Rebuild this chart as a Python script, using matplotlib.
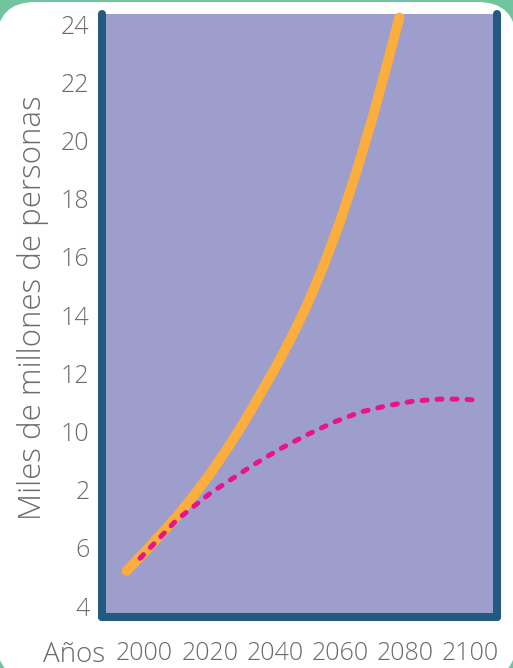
import matplotlib
matplotlib.use("Agg")
import matplotlib.pyplot as plt
from matplotlib.patches import FancyBboxPatch

# ---- data ----
orange_years = [1994.5, 1999.6, 2004.7, 2009.9, 2015.0, 2020.1, 2025.2, 2030.3, 2035.4,
                2040.6, 2045.7, 2050.0, 2055.0, 2060.0, 2065.0, 2070.0, 2075.0, 2078.2]
orange_vals = [5.21, 5.81, 6.43, 7.08, 7.78, 8.54, 9.38, 10.28, 11.25,
               12.28, 13.37, 14.38, 15.71, 17.21, 18.91, 20.79, 22.84, 24.22]

pink_years = [1998.6, 2009.9, 2020.1, 2025.2, 2033.4, 2041.6, 2049.8, 2057.9,
              2066.1, 2074.3, 2082.5, 2090.7, 2096.8, 2102.0]
pink_vals = [5.64, 6.96, 7.87, 8.25, 8.85, 9.40, 9.88, 10.31,
             10.66, 10.88, 11.04, 11.11, 11.11, 11.08]

x_ticks = [2000, 2020, 2040, 2060, 2080, 2100]
x_tick_labels = ["2000", "2020", "2040", "2060", "2080", "2100"]
y_ticks = [4, 6, 8, 10, 12, 14, 16, 18, 20, 22, 24]
y_tick_labels = ["4", "6", "2", "10", "12", "14", "16", "18", "20", "22", "24"]

ylabel = "Miles de millones de personas"
xlabel = "Años"

# ---- style ----
W, H = 513, 668
DPI = 100
green = "#70C59E"
lavender = "#9E9ECC"
spine_col = "#245A82"
orange = "#FBAD3D"
pink = "#EC128F"
text_col = "#6B6B6B"
font = ["Open Sans", "DejaVu Sans"]
weight = "light"

fig = plt.figure(figsize=(W / DPI, H / DPI), dpi=DPI)
fig.patch.set_facecolor(green)

# white rounded card
card = FancyBboxPatch((-3 / W, 1 - 680 / H), 519 / W, (680 - 2) / H,
                      boxstyle="round,pad=0,rounding_size=0.075",
                      transform=fig.transFigure, facecolor="white",
                      edgecolor="none", mutation_aspect=W / H, zorder=-10)
fig.patches.append(card)

ax = fig.add_axes([102 / W, 1 - 617 / H, (497 - 102) / W, (617 - 14) / H])
ax.set_zorder(5)
ax.set_facecolor(lavender)

ax.plot(orange_years, orange_vals, color=orange, lw=7.2, solid_capstyle="round",
        solid_joinstyle="round", clip_on=False, zorder=3)
ax.plot(pink_years, pink_vals, color=pink, lw=3.6, dashes=(1.0, 2.0),
        dash_capstyle="round", dash_joinstyle="round", zorder=4)

ax.set_xlim(1986.92, 2108.2)
ax.set_ylim(3.622, 24.344)

ax.set_xticks(x_ticks)
ax.set_xticklabels(x_tick_labels)
ax.set_yticks(y_ticks)
ax.set_yticklabels(y_tick_labels)
ax.tick_params(length=0, colors=text_col, labelsize=18)
ax.tick_params(axis="x", pad=17)
ax.tick_params(axis="y", pad=9)
for lab in ax.get_xticklabels() + ax.get_yticklabels():
    lab.set_fontfamily(font)
    lab.set_fontweight(weight)
    lab.set_color(text_col)

for s in ["left", "right", "bottom"]:
    ax.spines[s].set_color(spine_col)
    ax.spines[s].set_linewidth(5.8)
    ax.spines[s].set_capstyle("round")
ax.spines["top"].set_visible(False)

fig.text(33 / W, 1 - 308 / H, ylabel, rotation=90, ha="center", va="center",
         fontsize=22.5, color=text_col, family=font, fontweight=weight)
fig.text(74 / W, 1 - 662 / H, xlabel, ha="center", va="baseline",
         fontsize=20, color=text_col, family=font, fontweight=weight)

fig.savefig("out.png", dpi=DPI, facecolor=fig.get_facecolor())
